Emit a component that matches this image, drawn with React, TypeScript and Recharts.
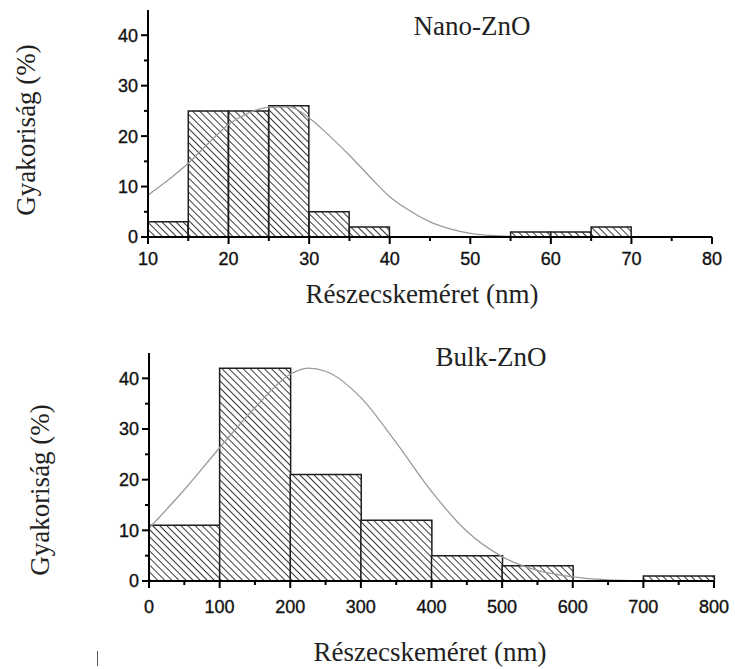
// @ts-nocheck
import React from 'react';
import { ComposedChart, Bar, Line, XAxis, YAxis } from 'recharts';

// Nano-ZnO histogram (5 nm bins) and fitted curve
const nanoBins = ['10-15', '15-20', '20-25', '25-30', '30-35', '35-40', '40-45', '45-50', '50-55', '55-60', '60-65', '65-70', '70-75', '75-80'];
const nanoFreq = [3, 25, 25, 26, 5, 2, 0, 0, 0, 1, 1, 2, 0, 0];
const nanoFitX = [10, 12.5, 15, 17.5, 20, 22.5, 25, 27.5, 30, 32.5, 35, 37.5, 40, 42.5, 45, 47.5, 50, 52.5, 55, 60];
const nanoFitY = [8.3, 11.3, 14.6, 18.6, 22.3, 24.6, 25.7, 25.8, 23.6, 20.1, 16.2, 12, 8, 5.2, 3, 1.6, 0.7, 0.3, 0.1, 0];
const nanoMajorX = [10, 20, 30, 40, 50, 60, 70, 80];
const nanoMinorX = [15, 25, 35, 45, 55, 65, 75];

// Bulk-ZnO histogram (100 nm bins) and fitted curve
const bulkBins = ['0-100', '100-200', '200-300', '300-400', '400-500', '500-600', '600-700', '700-800'];
const bulkFreq = [11, 42, 21, 12, 5, 3, 0, 1];
const bulkFitX = [0, 50, 100, 150, 200, 225, 250, 300, 350, 400, 450, 500, 550, 600, 650, 700];
const bulkFitY = [10.4, 18, 26.3, 34.2, 40.8, 42, 41.4, 36.2, 27.3, 17.7, 9.8, 4.8, 2.1, 0.8, 0.2, 0];
const bulkMajorX = [0, 100, 200, 300, 400, 500, 600, 700, 800];
const bulkMinorX = [50, 150, 250, 350, 450, 550, 650, 750];

const yMajor = [0, 10, 20, 30, 40];
const yMinor = [5, 15, 25, 35];

const tickFont = '"Liberation Sans", Arial, sans-serif';
const serif = '"Liberation Serif", "Times New Roman", serif';

const sortNum = (a: number[]) => [...a].sort((p, q) => p - q);

function XTick({ x, y, payload, majors, labelDy }) {
  const major = majors.includes(payload.value);
  return (
    <g>
      <line x1={x} x2={x} y1={y} y2={y + (major ? 7 : 4)} stroke="#000" strokeWidth={2} />
      {major && (
        <text x={x} y={y + labelDy} textAnchor="middle" fontFamily={tickFont} fontSize={18} fill="#111" stroke="#111" strokeWidth={0.35}>
          {payload.value}
        </text>
      )}
    </g>
  );
}

function YTick({ x, y, payload }) {
  const major = yMajor.includes(payload.value);
  return (
    <g>
      <line x1={x - (major ? 7 : 4)} x2={x} y1={y} y2={y} stroke="#000" strokeWidth={2} />
      {major && (
        <text x={x - 10} y={y} dy="0.36em" textAnchor="end" fontFamily={tickFont} fontSize={18} fill="#111" stroke="#111" strokeWidth={0.35}>
          {payload.value}
        </text>
      )}
    </g>
  );
}

function Histogram({ id, bins, freq, fitX, fitY, majorX, minorX, margin, height, labelDy }) {
  const rows = bins.map((b, i) => ({ bin: b, freq: freq[i] }));
  const fit = fitX.map((x, i) => ({ x, y: fitY[i] }));
  const xTicks = sortNum([...majorX, ...minorX]);
  const yTicks = sortNum([...yMajor, ...yMinor]);
  return (
    <ComposedChart width={735} height={height} data={rows} margin={margin} barCategoryGap={0} barGap={0}>
      <defs>
        <pattern id={id} width={5} height={5} patternUnits="userSpaceOnUse" patternTransform="rotate(45)">
          <rect width={5} height={5} fill="#fff" />
          <line x1={0} y1={2.5} x2={5} y2={2.5} stroke="#3a3a3a" strokeWidth={1} />
        </pattern>
      </defs>
      <XAxis xAxisId="bins" dataKey="bin" type="category" hide height={0} />
      <XAxis
        xAxisId="num"
        dataKey="x"
        type="number"
        domain={[majorX[0], majorX[majorX.length - 1]]}
        ticks={xTicks}
        interval={0}
        allowDataOverflow
        height={30}
        tickSize={0}
        tickMargin={0}
        tickLine={false}
        axisLine={{ stroke: '#000', strokeWidth: 2 }}
        tick={(p) => <XTick {...p} majors={majorX} labelDy={labelDy} />}
      />
      <YAxis
        type="number"
        domain={[0, 45]}
        ticks={yTicks}
        interval={0}
        width={40}
        tickSize={0}
        tickMargin={0}
        tickLine={false}
        axisLine={{ stroke: '#000', strokeWidth: 2 }}
        tick={(p) => <YTick {...p} />}
      />
      <Bar
        xAxisId="bins"
        dataKey="freq"
        fill={`url(#${id})`}
        stroke="#1e1e1e"
        strokeWidth={1.5}
        isAnimationActive={false}
      />
      <Line
        xAxisId="num"
        data={fit}
        dataKey="y"
        type="monotone"
        stroke="#9a9a9a"
        strokeWidth={1.3}
        dot={false}
        activeDot={false}
        isAnimationActive={false}
      />
    </ComposedChart>
  );
}

const textStyle = { position: 'absolute', fontFamily: serif, fontSize: 27, color: '#222', whiteSpace: 'nowrap' };

function Centered({ x, y, rotate = false, children }) {
  return (
    <div
      style={{
        ...textStyle,
        left: x,
        top: y,
        lineHeight: 1,
        transform: `translate(-50%, -50%)${rotate ? ' rotate(-90deg)' : ''}`,
      }}
    >
      {children}
    </div>
  );
}

export default function App() {
  return (
    <div style={{ position: 'absolute', left: 0, top: 0, width: 735, height: 669, background: '#fff', overflow: 'hidden' }}>
      <div style={{ position: 'absolute', left: 0, top: 0 }}>
        <Histogram
          id="hatchNano"
          bins={nanoBins}
          freq={nanoFreq}
          fitX={nanoFitX}
          fitY={nanoFitY}
          majorX={nanoMajorX}
          minorX={nanoMinorX}
          height={320}
          margin={{ top: 10, right: 23, left: 108, bottom: 53 }}
          labelDy={28}
        />
      </div>
      <div style={{ position: 'absolute', left: 0, top: 320 }}>
        <Histogram
          id="hatchBulk"
          bins={bulkBins}
          freq={bulkFreq}
          fitX={bulkFitX}
          fitY={bulkFitY}
          majorX={bulkMajorX}
          minorX={bulkMinorX}
          height={349}
          margin={{ top: 33, right: 21, left: 109, bottom: 58 }}
          labelDy={32}
        />
      </div>
      <Centered x={472} y={26}>Nano-ZnO</Centered>
      <Centered x={491} y={357}>Bulk-ZnO</Centered>
      <Centered x={422} y={294}>Részecskeméret (nm)</Centered>
      <Centered x={430} y={652}>Részecskeméret (nm)</Centered>
      <Centered x={26} y={130} rotate>Gyakoriság (%)</Centered>
      <Centered x={40} y={490} rotate>Gyakoriság (%)</Centered>
      <div style={{ position: 'absolute', left: 97, top: 651, width: 1, height: 15, background: '#555' }} />
    </div>
  );
}
